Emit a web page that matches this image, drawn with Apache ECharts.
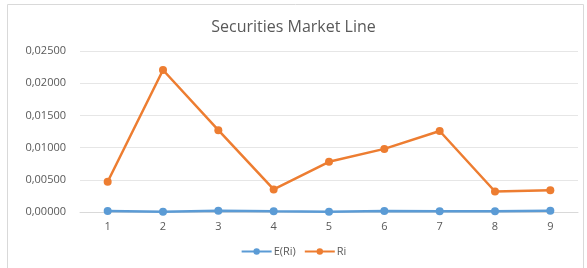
<!DOCTYPE html>
<html>
<head>
<meta charset="utf-8">
<script src="https://cdn.jsdelivr.net/npm/echarts@6/dist/echarts.min.js"></script>
<style>
  html, body { margin: 0; padding: 0; background: #fff; }
  #main { width: 587px; height: 268px; }
</style>
</head>
<body>
<div id="main"></div>
<script>
// categories + series
var categories = ['1', '2', '3', '4', '5', '6', '7', '8', '9'];
var expectedReturn = [0.00016, 0.00005, 0.0002, 0.0001, 0.00003, 0.00015, 0.0001, 0.0001, 0.0002];
var actualReturn = [0.0047, 0.02205, 0.0127, 0.0035, 0.0078, 0.0098, 0.01258, 0.00318, 0.00337];

var myChart = echarts.init(document.getElementById('main'));

myChart.setOption({
    animation: false,
    title: {
        text: 'Securities Market Line',
        left: 'center',
        top: 14,
        textStyle: {color: '#595959', fontSize: 16, fontWeight: 'normal', fontFamily: 'Open Sans'}
    },
    graphic: [{
        type: 'rect',
        shape: {x: 7.5, y: 4.5, width: 576, height: 270},
        style: {fill: 'none', stroke: '#d9d9d9', lineWidth: 1}
    }],
    legend: {
        bottom: 6,
        left: 'center',
        itemWidth: 30,
        itemHeight: 8,
        itemGap: 8,
        textStyle: {color: '#595959', fontSize: 11, fontFamily: 'Open Sans', padding: [0, 0, 0, -3]},
        data: ['E(Ri)', 'Ri']
    },
    grid: {left: 80, right: 9, top: 51, bottom: 56},
    xAxis: {
        type: 'category',
        data: categories,
        axisLine: {lineStyle: {color: '#d9d9d9'}},
        axisTick: {show: false},
        axisLabel: {color: '#595959', fontSize: 11, fontFamily: 'Open Sans', margin: 9}
    },
    yAxis: {
        type: 'value',
        min: 0,
        max: 0.025,
        interval: 0.005,
        axisLine: {show: false},
        axisTick: {show: false},
        splitLine: {lineStyle: {color: '#e6e6e6'}},
        axisLabel: {
            color: '#595959', fontSize: 11, fontFamily: 'Open Sans', margin: 14,
            formatter: function (v) { return v.toFixed(5).replace('.', ','); }
        }
    },
    series: [
        {
            name: 'E(Ri)',
            type: 'line',
            data: expectedReturn,
            symbol: 'circle',
            symbolSize: 8,
            lineStyle: {width: 2.5, color: '#5B9BD5'},
            itemStyle: {color: '#5B9BD5'}
        },
        {
            name: 'Ri',
            type: 'line',
            data: actualReturn,
            symbol: 'circle',
            symbolSize: 8,
            lineStyle: {width: 2.5, color: '#ED7D31'},
            itemStyle: {color: '#ED7D31'}
        }
    ]
});
</script>
</body>
</html>
